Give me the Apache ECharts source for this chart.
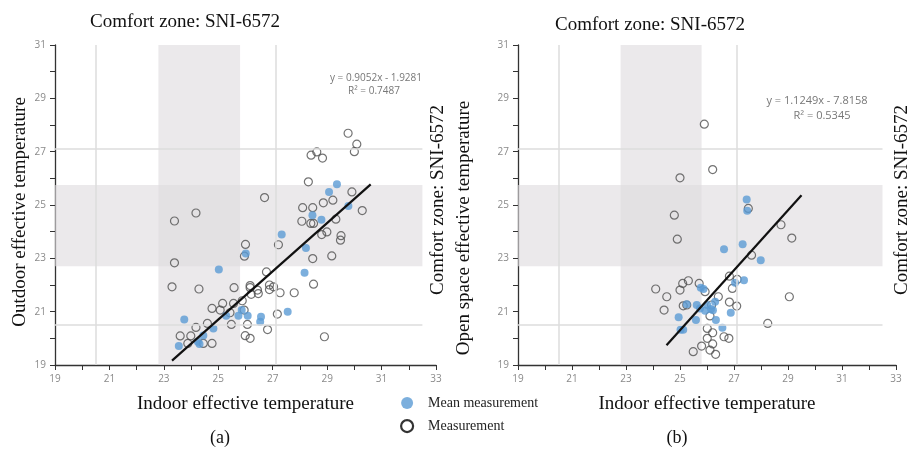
<!DOCTYPE html>
<html>
<head>
<meta charset="utf-8">
<script src="https://cdn.jsdelivr.net/npm/echarts@6/dist/echarts.min.js"></script>
<style>html,body{margin:0;padding:0;background:#fff}#c{width:907px;height:454px}</style>
</head>
<body>
<div id="c"></div>
<script>
// ---- data ----
const leftMeasX = [29.77,30.09,30.0,28.62,28.41,28.83,28.31,26.70,24.18,23.39,29.91,29.21,28.86,28.47,28.10,30.29,28.07,28.40,28.50,29.32,28.99,28.80,29.51,29.49,27.21,26.0,25.96,28.47,29.17,23.39,26.77,28.50,23.30,24.29,25.58,26.17,26.17,26.44,26.47,26.88,27.03,26.88,27.27,27.79,26.21,25.16,25.56,25.88,24.77,25.07,25.43,25.95,27.17,25.48,26.07,24.18,24.60,26.81,23.60,23.99,25.99,26.17,28.90,23.88,24.45,24.77];
const leftMeasY = [27.69,27.28,27.0,26.99,26.87,26.76,25.87,25.28,24.70,24.40,25.49,25.18,25.08,24.90,24.90,24.79,24.39,24.31,24.31,24.47,23.99,23.89,23.85,23.68,23.51,23.52,23.08,22.99,23.09,22.83,22.49,22.03,21.93,21.85,21.90,21.98,21.90,21.81,21.68,22.0,21.93,21.83,21.71,21.71,21.65,21.31,21.31,21.41,21.12,21.06,20.96,21.06,20.91,20.52,20.52,20.41,20.56,20.33,20.09,20.09,20.10,20.0,20.06,19.81,19.81,19.81];
const leftMeanX = [29.36,29.07,29.78,28.46,28.79,27.33,28.22,26.01,25.02,28.17,23.75,25.29,25.74,25.86,26.08,26.57,26.54,27.55,24.82,24.45,24.25,24.31,23.55];
const leftMeanY = [25.78,25.49,24.96,24.62,24.45,23.89,23.39,23.18,22.58,22.46,20.71,20.85,20.85,21.06,20.85,20.81,20.62,21.0,20.37,20.11,19.87,19.79,19.71];
const rightMeasX = [25.90,26.21,25.0,24.79,24.90,27.53,28.74,29.14,27.65,24.10,24.51,24.41,25.10,25.31,25.0,25.71,25.93,26.42,26.83,26.94,27.12,26.83,27.10,25.25,25.12,26.11,26.17,26.01,26.21,26.01,26.21,26.63,26.81,25.80,25.49,26.11,26.32,28.25,29.05];
const rightMeasY = [28.03,26.33,26.02,24.62,23.72,24.87,24.26,23.76,23.12,21.85,21.56,21.06,22.06,22.16,21.81,22.06,21.75,21.56,22.33,21.87,22.21,21.36,21.21,21.25,21.22,20.84,21.25,20.37,20.21,20.0,19.79,20.06,20.0,19.71,19.50,19.56,19.40,20.56,21.56];
const rightMeanX = [27.47,27.49,27.32,26.63,27.99,27.04,27.37,25.77,25.87,25.25,25.62,26.01,26.15,26.22,25.74,26.30,25.93,26.88,24.95,25.59,26.33,26.57,25.02,25.12];
const rightMeanY = [25.21,24.78,23.53,23.34,22.93,22.08,22.18,21.9,21.85,21.28,21.25,21.25,21.1,21.05,21.12,21.37,21.03,20.96,20.79,20.69,20.69,20.40,20.32,20.32];
const leftFit = {slope: 0.9052, icpt: -1.9281, xs: [23.3, 30.6], r2: 0.7487};
const rightFit = {slope: 1.1249, icpt: -7.8158, xs: [24.5, 29.5], r2: 0.5345};
const xTicks = [19,21,23,25,27,29,31,33];
const yTicks = [19,21,23,25,27,29,31];
const comfortV = [22.8, 25.8];   // vertical comfort band (indoor)
const comfortH = [22.7, 25.75];  // horizontal comfort band (outdoor/open space)
const gridVals = [20.5, 27.1];
const bandEnd = 32.5;

const zip = (a,b) => a.map((v,i)=>[v,b[i]]);
const serif = '"Liberation Serif","DejaVu Serif",serif';
const sans = '"Open Sans","Noto Sans",sans-serif';

function axes(idx){
  const x = {
    type:'value', gridIndex: idx, min:19, max:33, interval:1,
    axisLine:{show:true, lineStyle:{color:'#333', width:1.3}},
    axisTick:{show:true, length:5, lineStyle:{color:'#333'}},
    axisLabel:{color:'#8a8a8a', fontSize:10, fontFamily:sans, margin:9,
      formatter: v => xTicks.includes(v) ? String(v) : ''},
    splitLine:{show:false},
    name:'Indoor effective temperature', nameLocation:'middle', nameGap:30,
    nameTextStyle:{fontFamily:serif, fontSize:19, color:'#111'}
  };
  const y = {
    type:'value', gridIndex: idx, min:19, max:31, interval:1,
    axisLine:{show:true, lineStyle:{color:'#333', width:1.3}},
    axisTick:{show:true, length:5, lineStyle:{color:'#333'}},
    axisLabel:{color:'#8a8a8a', fontSize:10, fontFamily:sans, margin:9,
      formatter: v => yTicks.includes(v) ? String(v) : ''},
    splitLine:{show:false}
  };
  return [x,y];
}
const [x0,y0] = axes(0), [x1,y1] = axes(1);

function bgSeries(idx){
  return {
    type:'line', xAxisIndex:idx, yAxisIndex:idx, data:[], silent:true, z:1,
    markArea:{silent:true, itemStyle:{color:'rgba(222,219,222,0.62)'},
      data:[
        [{xAxis:comfortV[0], yAxis:19},{xAxis:comfortV[1], yAxis:31}],
        [{xAxis:19, yAxis:comfortH[0]},{xAxis:bandEnd, yAxis:comfortH[1]}]
      ]},
    markLine:{silent:true, symbol:'none', label:{show:false},
      lineStyle:{color:'#dcdcdc', width:1.5, type:'solid'},
      data:[
        [{coord:[gridVals[0],19]},{coord:[gridVals[0],31]}],
        [{coord:[gridVals[1],19]},{coord:[gridVals[1],31]}],
        [{coord:[19,gridVals[0]]},{coord:[bandEnd,gridVals[0]]}],
        [{coord:[19,gridVals[1]]},{coord:[bandEnd,gridVals[1]]}]
      ]}
  };
}
function measSeries(idx, xs, ys){
  return {name:'Measurement', type:'scatter', xAxisIndex:idx, yAxisIndex:idx, z:3,
    symbol:'circle', symbolSize:8, data: zip(xs,ys),
    itemStyle:{color:'rgba(255,255,255,0)', borderColor:'#505050', borderWidth:1.2}};
}
function meanSeries(idx, xs, ys){
  return {name:'Mean measurement', type:'scatter', xAxisIndex:idx, yAxisIndex:idx, z:4,
    symbol:'circle', symbolSize:8, data: zip(xs,ys),
    itemStyle:{color:'#5b9bd5'}};
}
function fitSeries(idx, f){
  return {type:'line', xAxisIndex:idx, yAxisIndex:idx, z:5, symbol:'none', silent:true,
    data: f.xs.map(x=>[x, f.slope*x + f.icpt]),
    lineStyle:{color:'#111', width:2.2}};
}

const fmtEq = f => 'y = ' + f.slope.toFixed(4) + 'x - ' + Math.abs(f.icpt).toFixed(4);
const vtext = (x,y,t) => ({type:'text', x:x, y:y, rotation:Math.PI/2,
  style:{text:t, font:'19px '+serif, fill:'#111', align:'center', verticalAlign:'middle'}});

const chart = echarts.init(document.getElementById('c'), null, {renderer:'canvas'});
chart.setOption({
  animation:false,
  backgroundColor:'#fff',
  grid:[
    {left:55, top:45, width:381, height:320},
    {left:518, top:45, width:378, height:320}
  ],
  xAxis:[x0,x1], yAxis:[y0,y1],
  legend:{
    orient:'vertical', left:395, top:391, itemGap:9, itemWidth:12, itemHeight:12,
    textStyle:{fontFamily:serif, fontSize:14, color:'#222', padding:[0,0,0,10]},
    data:[
      {name:'Mean measurement', icon:'circle', itemStyle:{color:'#5b9bd5'}},
      {name:'Measurement', icon:'circle', itemStyle:{color:'#fff', borderColor:'#000', borderWidth:2.2}}
    ]
  },
  series:[
    bgSeries(0), bgSeries(1),
    measSeries(0,leftMeasX,leftMeasY), meanSeries(0,leftMeanX,leftMeanY), fitSeries(0,leftFit),
    measSeries(1,rightMeasX,rightMeasY), meanSeries(1,rightMeanX,rightMeanY), fitSeries(1,rightFit)
  ],
  graphic:[
    {type:'text', x:185, y:22, style:{text:'Comfort zone: SNI-6572', font:'19px '+serif, fill:'#111', align:'center', verticalAlign:'middle'}},
    {type:'text', x:650, y:25, style:{text:'Comfort zone: SNI-6572', font:'19px '+serif, fill:'#111', align:'center', verticalAlign:'middle'}},
    vtext(20, 212, 'Outdoor effective temperature'),
    vtext(438, 200, 'Comfort zone: SNI-6572'),
    vtext(464, 228, 'Open space effective temperature'),
    vtext(902, 200, 'Comfort zone: SNI-6572'),
    {type:'text', x:376, y:78, style:{text:fmtEq(leftFit), font:'10px '+sans, fill:'#777', align:'center', verticalAlign:'middle'}},
    {type:'text', x:374, y:91, style:{text:'R² = '+leftFit.r2, font:'10px '+sans, fill:'#777', align:'center', verticalAlign:'middle'}},
    {type:'text', x:817, y:101, style:{text:fmtEq(rightFit), font:'11px '+sans, fill:'#777', align:'center', verticalAlign:'middle'}},
    {type:'text', x:822, y:116, style:{text:'R² = '+rightFit.r2, font:'11px '+sans, fill:'#777', align:'center', verticalAlign:'middle'}},
    {type:'text', x:220, y:438, style:{text:'(a)', font:'18px '+serif, fill:'#111', align:'center', verticalAlign:'middle'}},
    {type:'text', x:677, y:438, style:{text:'(b)', font:'18px '+serif, fill:'#111', align:'center', verticalAlign:'middle'}}
  ]
});
</script>
</body>
</html>
